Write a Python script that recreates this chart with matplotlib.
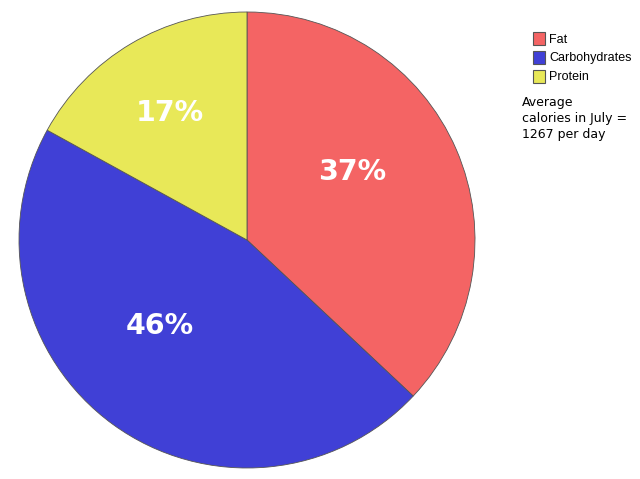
import matplotlib
matplotlib.use("Agg")
from matplotlib import pyplot as plt
from matplotlib.patches import Patch
from matplotlib.transforms import offset_copy

categories = ["Fat", "Carbohydrates", "Protein"]
shares = [37, 46, 17]
colors = ["#f46464", "#4040d6", "#e8e858"]
note = "Average\ncalories in July =\n1267 per day"

W, H = 640, 479
fig = plt.figure(figsize=(W / 100, H / 100), dpi=100)
ax = fig.add_axes([0, 0, 1, 1])

wedges, texts, autotexts = ax.pie(
  shares,
  colors=colors,
  startangle=90,
  counterclock=False,
  center=(247, H - 240),
  radius=228,
  autopct="%d%%",
  pctdistance=0.56,
  wedgeprops=dict(edgecolor="#555555", linewidth=0.6),
  textprops=dict(color="white", fontsize=20.5, fontweight="bold", family="DejaVu Sans"),
  frame=True,
)
ax.set_xlim(0, W)
ax.set_ylim(0, H)
ax.set_aspect("equal")
ax.axis("off")

# labels sit a little up-left of the mid-angle point in the original
for t in autotexts:
  t.set_transform(offset_copy(ax.transData, fig=fig, x=-12, y=17, units="dots"))

handles = [Patch(facecolor=c, edgecolor="#555555", linewidth=0.8, label=l)
           for c, l in zip(colors, categories)]
fig.legend(handles=handles, loc="upper left", bbox_to_anchor=(528 / W, 1 - 27 / H),
           frameon=False, handlelength=0.95, handleheight=1.2,
           handletextpad=0.35, labelspacing=0.42, borderaxespad=0,
           prop=dict(family="Liberation Sans", size=9))

fig.text(522 / W, 1 - 96 / H, note, ha="left", va="top", fontsize=9,
         family="DejaVu Sans", linespacing=1.3)

fig.savefig("out.png", dpi=100)
